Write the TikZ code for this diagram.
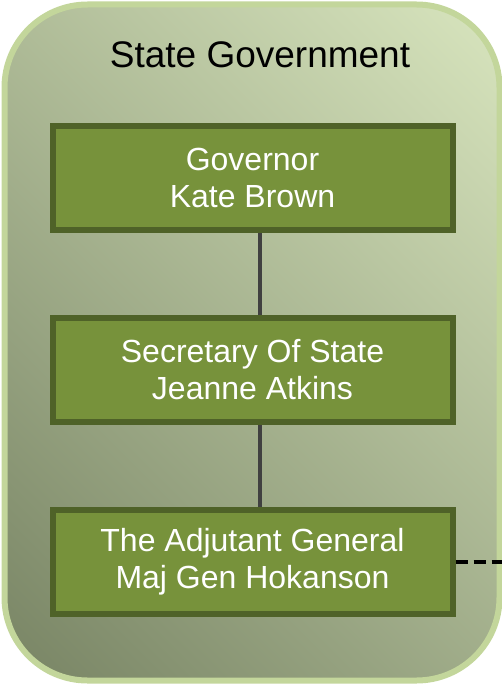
\documentclass[tikz,border=0pt]{standalone}
\usepackage{fontspec}
\setmainfont{Liberation Sans}
\usetikzlibrary{positioning}

\definecolor{panelEdge}{RGB}{195,214,155}
\definecolor{panelLight}{RGB}{216,229,190}
\definecolor{panelDark}{RGB}{120,132,100}
\definecolor{boxFill}{RGB}{119,146,59}
\definecolor{boxEdge}{RGB}{79,98,40}
\definecolor{linkGray}{RGB}{64,64,64}

% corner to corner gradient of the panel
\pgfdeclareverticalshading{panelshade}{100bp}{color(0bp)=(panelDark); color(14.6bp)=(panelDark);
  color(85.4bp)=(panelLight); color(100bp)=(panelLight)}

\tikzset{
  office/.style={draw=boxEdge, fill=boxFill, line width=6pt, text=white,
    minimum width=400pt, minimum height=104pt, align=center,
    font=\fontsize{32}{37}\selectfont},
  link/.style={draw=linkGray, line width=4pt},
  dotted link/.style={draw=black, line width=4.5pt, dash pattern=on 12pt off 6pt}
}

\begin{document}
\begin{tikzpicture}[x=1pt, y=1pt]
  \useasboundingbox (0,0) rectangle (502,-685);
  \shadedraw[draw=panelEdge, line width=6pt, rounded corners=83pt,
        shading=panelshade, shading angle=-45]
    (4.5,-4.5) rectangle (499.5,-680.5);
  \node[font=\fontsize{37}{42}\selectfont] (title) at (260,-55) {State Government};

  \node[office] (gov) at (252.5,-178) {Governor\\Kate Brown};
  \node[office, below=82pt of gov] (sec) {Secretary Of State\\Jeanne Atkins};
  \node[office, below=82pt of sec] (tag) {The Adjutant General\\Maj Gen Hokanson};
  \coordinate (offpage) at (502,-562);

  \path[link]
  ([xshift=7.5pt]gov.south) edge ([xshift=7.5pt]sec.north)
  ([xshift=7.5pt]sec.south) edge ([xshift=7.5pt]tag.north)
  ;
  \draw[dotted link] (tag.east) -- (offpage);
\end{tikzpicture}
\end{document}
